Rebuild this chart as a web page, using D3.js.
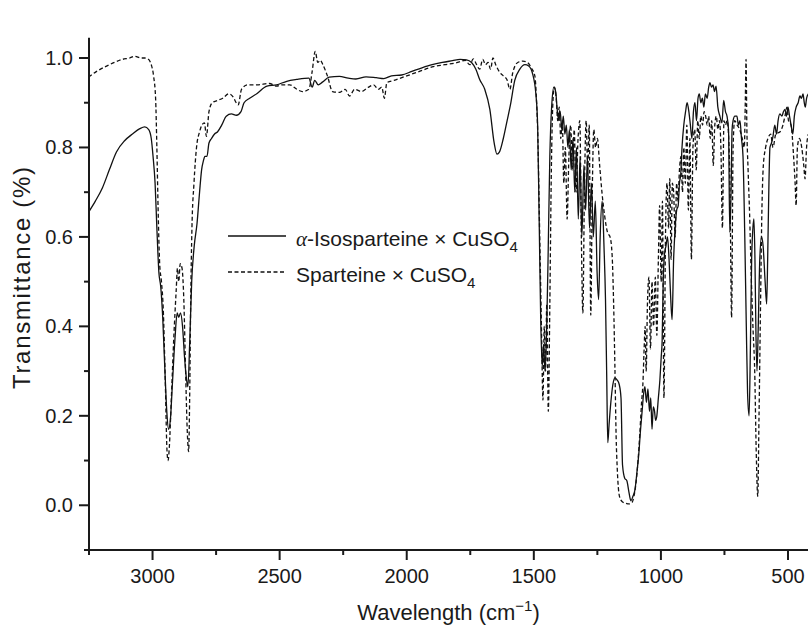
<!DOCTYPE html>
<html lang="en">
<head>
  <meta charset="UTF-8" />
  <title>IR spectra</title>
  <script src="https://d3js.org/d3.v7.min.js"></script>
  <style>
    body {
      margin: 0;
      background: #fff;
    }
    svg {
      display: block;
      font-family: "Liberation Sans", Arial, sans-serif;
    }
    .axis line {
      stroke: #1a1a1a;
      stroke-width: 2;
    }
    .axis text {
      font-size: 20px;
      fill: #1a1a1a;
    }
    path.spec {
      fill: none;
      stroke: #111;
      stroke-width: 1.3;
    }
    path.dashed, line.dashed {
      stroke-dasharray: 4 2.5;
    }
    text.lab {
      fill: #1a1a1a;
    }
  </style>
</head>
<body>

<svg width="808" height="628"></svg>

<script>
  // alpha-Isosparteine x CuSO4 (solid), [wavenumber, transmittance]
  const isoPoints = [
    [3252,0.655],[3225,0.68],[3197,0.71],[3170,0.75],[3142,0.79],[3110,0.815],[3079,0.83],[3050,0.842],
    [3031,0.846],[3015,0.84],[3005,0.82],[2998,0.78],[2990,0.72],[2983,0.62],[2975,0.52],[2968,0.49],
    [2960,0.42],[2952,0.31],[2944,0.21],[2937,0.17],[2930,0.19],[2922,0.27],[2912,0.37],[2903,0.43],
    [2897,0.42],[2890,0.43],[2882,0.40],[2874,0.33],[2866,0.28],[2861,0.265],[2854,0.36],[2846,0.50],
    [2836,0.58],[2825,0.63],[2815,0.70],[2807,0.75],[2800,0.77],[2794,0.78],[2786,0.78],[2778,0.81],
    [2768,0.82],[2756,0.83],[2744,0.835],[2728,0.85],[2710,0.87],[2690,0.875],[2670,0.872],[2652,0.88],
    [2640,0.90],[2618,0.91],[2590,0.92],[2550,0.937],[2512,0.94],[2472,0.948],[2433,0.952],[2385,0.955],
    [2372,0.935],[2362,0.95],[2348,0.94],[2332,0.946],[2305,0.957],[2265,0.959],[2230,0.955],[2200,0.953],
    [2160,0.958],[2120,0.956],[2090,0.954],[2060,0.96],[2020,0.962],[1980,0.97],[1940,0.978],[1900,0.985],
    [1860,0.99],[1820,0.994],[1790,0.997],[1765,0.996],[1745,0.99],[1728,0.975],[1713,0.952],[1693,0.93],
    [1673,0.885],[1656,0.81],[1645,0.785],[1635,0.79],[1620,0.82],[1605,0.86],[1592,0.895],[1575,0.95],
    [1555,0.975],[1535,0.985],[1520,0.982],[1505,0.965],[1492,0.92],[1485,0.85],[1479,0.64],[1473,0.42],
    [1467,0.31],[1462,0.36],[1456,0.30],[1450,0.38],[1444,0.55],[1437,0.78],[1430,0.89],[1421,0.935],
    [1414,0.925],[1408,0.885],[1402,0.86],[1396,0.88],[1390,0.84],[1384,0.87],[1378,0.83],[1372,0.85],
    [1366,0.80],[1360,0.84],[1353,0.75],[1346,0.82],[1339,0.70],[1332,0.80],[1325,0.64],[1318,0.78],
    [1311,0.60],[1303,0.76],[1296,0.66],[1289,0.78],[1281,0.62],[1273,0.72],[1266,0.60],[1258,0.68],
    [1251,0.52],[1245,0.46],[1239,0.60],[1231,0.68],[1224,0.58],[1218,0.46],[1213,0.28],[1209,0.14],
    [1204,0.18],[1197,0.23],[1189,0.27],[1181,0.285],[1172,0.28],[1164,0.27],[1157,0.24],[1151,0.09],
    [1142,0.06],[1134,0.055],[1126,0.03],[1118,0.01],[1110,0.02],[1102,0.035],[1095,0.07],[1087,0.115],
    [1080,0.17],[1074,0.21],[1068,0.25],[1063,0.265],[1057,0.23],[1051,0.26],[1045,0.21],[1040,0.24],
    [1035,0.17],[1030,0.22],[1025,0.21],[1021,0.19],[1016,0.20],[1010,0.24],[1004,0.28],[999,0.33],
    [995,0.37],[991,0.50],[986,0.56],[980,0.58],[974,0.60],[968,0.55],[962,0.47],[956,0.415],
    [950,0.55],[945,0.61],[938,0.66],[932,0.67],[927,0.72],[922,0.74],[917,0.80],[910,0.85],
    [903,0.88],[897,0.90],[890,0.88],[884,0.85],[878,0.82],[872,0.88],[866,0.90],[860,0.86],
    [854,0.91],[849,0.92],[843,0.90],[837,0.91],[831,0.89],[825,0.92],[818,0.91],[812,0.935],
    [807,0.945],[801,0.935],[795,0.94],[789,0.925],[783,0.937],[776,0.89],[768,0.87],[760,0.855],
    [753,0.905],[746,0.88],[740,0.87],[734,0.84],[729,0.61],[724,0.70],[720,0.84],[716,0.86],
    [709,0.87],[701,0.87],[695,0.85],[689,0.86],[683,0.82],[677,0.78],[670,0.60],[664,0.40],
    [659,0.25],[653,0.20],[648,0.35],[643,0.55],[638,0.62],[634,0.64],[630,0.55],[626,0.38],
    [622,0.30],[617,0.40],[611,0.55],[604,0.60],[598,0.58],[590,0.50],[584,0.45],[580,0.55],
    [575,0.72],[571,0.80],[565,0.81],[559,0.825],[552,0.85],[545,0.83],[539,0.86],[532,0.875],
    [524,0.87],[518,0.88],[512,0.885],[506,0.87],[500,0.89],[494,0.87],[488,0.85],[481,0.83],
    [475,0.87],[468,0.89],[460,0.90],[453,0.915],[447,0.91],[441,0.92],[436,0.90],[432,0.89],
    [427,0.91],[420,0.92]
  ];

  // Sparteine x CuSO4 (dashed)
  const spPoints = [
    [3252,0.957],[3220,0.97],[3181,0.982],[3150,0.99],[3118,0.997],[3090,1.0],[3071,1.004],[3045,1.0],
    [3030,1.0],[3018,0.998],[3005,0.985],[2996,0.96],[2988,0.91],[2983,0.80],[2978,0.66],[2972,0.54],
    [2965,0.50],[2958,0.44],[2950,0.28],[2943,0.12],[2939,0.10],[2934,0.13],[2926,0.24],[2916,0.38],
    [2907,0.48],[2902,0.53],[2897,0.50],[2891,0.54],[2884,0.53],[2877,0.46],[2870,0.30],[2863,0.16],
    [2858,0.12],[2854,0.24],[2850,0.45],[2845,0.62],[2837,0.72],[2827,0.80],[2815,0.835],[2806,0.85],
    [2796,0.855],[2788,0.825],[2778,0.88],[2765,0.90],[2745,0.905],[2724,0.91],[2700,0.92],[2682,0.912],
    [2671,0.90],[2663,0.895],[2650,0.93],[2625,0.94],[2590,0.94],[2540,0.943],[2512,0.937],[2490,0.94],
    [2460,0.94],[2432,0.93],[2410,0.925],[2385,0.93],[2372,0.97],[2360,1.015],[2350,0.99],[2340,0.995],
    [2330,0.985],[2312,0.96],[2292,0.925],[2265,0.923],[2242,0.93],[2225,0.915],[2205,0.93],[2178,0.925],
    [2150,0.935],[2130,0.94],[2112,0.93],[2098,0.935],[2088,0.91],[2078,0.945],[2050,0.95],[2000,0.96],
    [1950,0.97],[1900,0.98],[1850,0.985],[1800,0.99],[1770,0.995],[1752,0.985],[1738,0.998],[1725,0.985],
    [1713,0.975],[1701,0.997],[1690,0.985],[1680,0.99],[1670,0.975],[1661,1.0],[1650,0.985],[1634,0.968],
    [1620,0.96],[1606,0.952],[1594,0.93],[1583,0.967],[1563,0.99],[1543,0.993],[1525,0.99],[1510,0.978],
    [1496,0.96],[1489,0.90],[1484,0.82],[1478,0.64],[1470,0.40],[1464,0.235],[1459,0.40],[1454,0.30],
    [1449,0.45],[1443,0.21],[1437,0.45],[1431,0.75],[1425,0.90],[1419,0.935],[1412,0.91],[1406,0.86],
    [1400,0.89],[1394,0.82],[1388,0.86],[1382,0.72],[1376,0.80],[1369,0.64],[1362,0.78],[1355,0.85],
    [1348,0.75],[1341,0.84],[1334,0.70],[1326,0.82],[1319,0.86],[1313,0.60],[1307,0.43],[1301,0.70],
    [1294,0.86],[1288,0.75],[1282,0.85],[1276,0.425],[1270,0.70],[1264,0.84],[1257,0.80],[1250,0.82],
    [1241,0.76],[1232,0.70],[1222,0.65],[1210,0.61],[1200,0.60],[1192,0.56],[1186,0.45],[1181,0.31],
    [1176,0.15],[1172,0.085],[1163,0.02],[1152,0.008],[1140,0.005],[1125,0.003],[1114,0.006],[1106,0.02],
    [1098,0.05],[1090,0.10],[1083,0.16],[1076,0.23],[1071,0.27],[1066,0.35],[1062,0.40],[1058,0.30],
    [1053,0.45],[1047,0.51],[1041,0.35],[1035,0.50],[1029,0.40],[1022,0.51],[1016,0.38],[1010,0.55],
    [1005,0.67],[999,0.50],[994,0.68],[988,0.24],[982,0.60],[976,0.72],[970,0.62],[965,0.73],
    [960,0.55],[955,0.72],[950,0.70],[944,0.60],[938,0.72],[933,0.68],[927,0.75],[921,0.78],
    [915,0.70],[910,0.80],[904,0.72],[898,0.85],[892,0.66],[886,0.82],[880,0.55],[874,0.80],
    [867,0.84],[861,0.75],[855,0.86],[849,0.82],[843,0.87],[836,0.85],[830,0.88],[824,0.87],
    [818,0.85],[812,0.87],[806,0.82],[800,0.86],[794,0.76],[788,0.85],[782,0.87],[776,0.84],
    [770,0.86],[764,0.80],[758,0.62],[752,0.86],[746,0.85],[740,0.86],[734,0.83],[728,0.70],
    [722,0.42],[716,0.80],[710,0.86],[700,0.85],[690,0.84],[680,0.82],[672,0.80],[668,0.90],
    [665,0.997],[662,0.85],[657,0.75],[651,0.65],[645,0.52],[638,0.40],[631,0.30],[625,0.12],
    [619,0.02],[614,0.20],[608,0.45],[603,0.65],[597,0.76],[588,0.80],[579,0.82],[568,0.83],
    [559,0.80],[548,0.83],[531,0.835],[520,0.85],[512,0.87],[504,0.89],[498,0.86],[488,0.85],
    [478,0.78],[472,0.72],[468,0.67],[463,0.80],[455,0.82],[446,0.80],[438,0.76],[433,0.73],
    [427,0.80],[420,0.83]
  ];

  const xMajor = [3000, 2500, 2000, 1500, 1000, 500];
  const xMinor = [3250, 2750, 2250, 1750, 1250, 750];
  const yMajor = [0.0, 0.2, 0.4, 0.6, 0.8, 1.0];
  const yMinor = [-0.1, 0.1, 0.3, 0.5, 0.7, 0.9];

  const svg = d3.select("svg");

  const x = d3.scaleLinear().domain([3250, 500]).range([89, 788]);
  const y = d3.scaleLinear().domain([-0.1, 1.0]).range([550, 58]);
  const xEnd = 400, yTop = 1.045;

  const line = d3.line()
    .x(d => x(d[0]))
    .y(d => y(d[1]))
    .curve(d3.curveMonotoneX);

  svg.append("path").datum(isoPoints).attr("class", "spec").attr("d", line);
  svg.append("path").datum(spPoints).attr("class", "spec dashed").attr("d", line);

  // x axis
  const gx = svg.append("g").attr("class", "axis").attr("transform", `translate(0,${y(-0.1)})`);
  gx.append("line").attr("x1", x(3250) - 1).attr("x2", x(xEnd));
  gx.selectAll("line.maj").data(xMajor).enter().append("line")
    .attr("x1", d => x(d)).attr("x2", d => x(d)).attr("y1", 0).attr("y2", 10);
  gx.selectAll("line.min").data(xMinor).enter().append("line")
    .attr("x1", d => x(d)).attr("x2", d => x(d)).attr("y1", 0).attr("y2", 5);
  gx.selectAll("text").data(xMajor).enter().append("text")
    .attr("x", d => x(d)).attr("y", 33)
    .attr("text-anchor", "middle")
    .text(d => d);

  // y axis
  const gy = svg.append("g").attr("class", "axis").attr("transform", `translate(${x(3250)},0)`);
  gy.append("line").attr("y1", y(-0.1) + 1).attr("y2", y(yTop));
  gy.selectAll("line.maj").data(yMajor).enter().append("line")
    .attr("y1", d => y(d)).attr("y2", d => y(d)).attr("x1", 0).attr("x2", -10);
  gy.selectAll("line.min").data(yMinor).enter().append("line")
    .attr("y1", d => y(d)).attr("y2", d => y(d)).attr("x1", 0).attr("x2", -5);
  gy.selectAll("text").data(yMajor).enter().append("text")
    .attr("x", -16).attr("y", d => y(d)).attr("dy", "0.35em")
    .attr("text-anchor", "end")
    .text(d => d3.format(".1f")(d));

  // axis titles
  svg.append("text").attr("class", "lab")
    .attr("transform", "translate(30,278) rotate(-90)")
    .attr("text-anchor", "middle")
    .attr("font-size", 24)
    .attr("textLength", 222)
    .attr("lengthAdjust", "spacing")
    .text("Transmittance (%)");

  const xt = svg.append("text").attr("class", "lab")
    .attr("x", (x(3250) + 808) / 2).attr("y", 620)
    .attr("text-anchor", "middle")
    .attr("font-size", 22);
  xt.append("tspan").text("Wavelength (cm");
  xt.append("tspan").attr("dy", -9).attr("font-size", 15).text("\u22121");
  xt.append("tspan").attr("dy", 9).text(")");

  // legend
  const legend = [
    { label: "iso", y: 236, dashed: false },
    { label: "sp", y: 272, dashed: true }
  ];
  legend.forEach(l => {
    svg.append("line")
      .attr("class", l.dashed ? "dashed" : null)
      .attr("x1", 228).attr("x2", 286).attr("y1", l.y).attr("y2", l.y)
      .attr("stroke", "#111").attr("stroke-width", 1.3);
    const t = svg.append("text").attr("class", "lab")
      .attr("x", 296).attr("y", l.y + 10)
      .attr("font-size", 21);
    if (l.label === "iso") {
      t.append("tspan").attr("font-family", "'Liberation Serif', serif")
        .attr("font-style", "italic").text("\u03b1");
      t.append("tspan").text("-Isosparteine \u00d7 CuSO");
    } else {
      t.append("tspan").text("Sparteine \u00d7 CuSO");
    }
    t.append("tspan").attr("dy", 6).attr("font-size", 15).text("4");
  });
</script>

</body>
</html>
